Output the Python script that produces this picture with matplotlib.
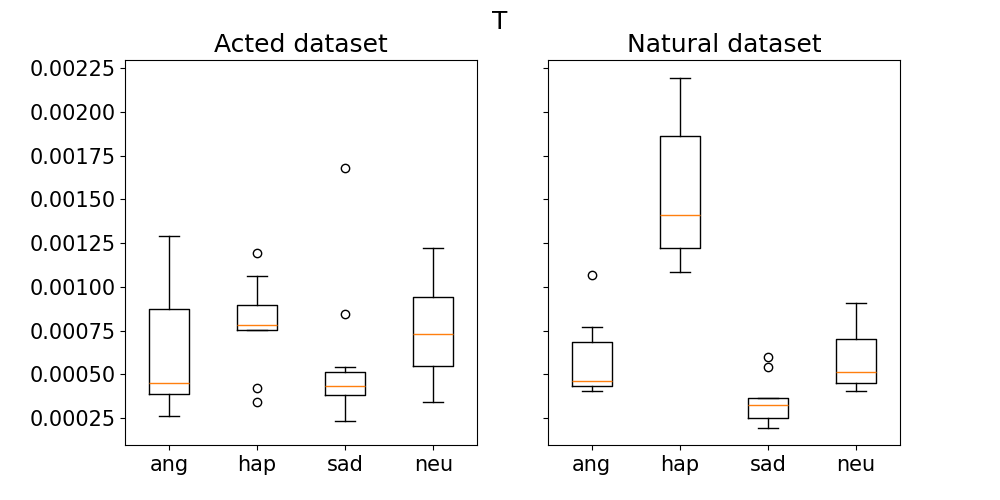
import matplotlib
matplotlib.use('Agg')
import matplotlib.pyplot as plt

# 감정 범주
labels = ['ang', 'hap', 'sad', 'neu']

# Acted dataset box 통계값
acted_whislo = [0.000265, 0.000753, 0.000237, 0.000345]
acted_q1 = [0.000387, 0.000753, 0.000381, 0.000547]
acted_med = [0.000454, 0.000780, 0.000433, 0.000734]
acted_q3 = [0.000877, 0.000897, 0.000517, 0.000940]
acted_whishi = [0.001290, 0.001060, 0.000541, 0.001225]
acted_fliers = [[], [0.001197, 0.000420, 0.000345], [0.000848, 0.001679], []]

# Natural dataset box 통계값
natural_whislo = [0.000408, 0.001083, 0.000197, 0.000403]
natural_q1 = [0.000435, 0.001220, 0.000254, 0.000450]
natural_med = [0.000465, 0.001410, 0.000328, 0.000517]
natural_q3 = [0.000683, 0.001865, 0.000363, 0.000705]
natural_whishi = [0.000770, 0.002197, 0.000363, 0.000911]
natural_fliers = [[0.001067], [], [0.000600, 0.000541], []]


def make_stats(whislo, q1, med, q3, whishi, fliers):
    stats = []
    for i in range(len(labels)):
        stats.append({'label': labels[i], 'whislo': whislo[i], 'q1': q1[i],
                      'med': med[i], 'q3': q3[i], 'whishi': whishi[i],
                      'fliers': fliers[i]})
    return stats


fig, (ax1, ax2) = plt.subplots(1, 2, figsize=(10, 5), sharey=True)

ax1.bxp(make_stats(acted_whislo, acted_q1, acted_med, acted_q3,
                   acted_whishi, acted_fliers))
ax2.bxp(make_stats(natural_whislo, natural_q1, natural_med, natural_q3,
                   natural_whishi, natural_fliers))

ax1.set_title('Acted dataset', fontsize=18)
ax2.set_title('Natural dataset', fontsize=18)
for ax in (ax1, ax2):
    ax.tick_params(labelsize=15)
fig.suptitle('T', fontsize=18)

plt.savefig('out.png', dpi=100)
